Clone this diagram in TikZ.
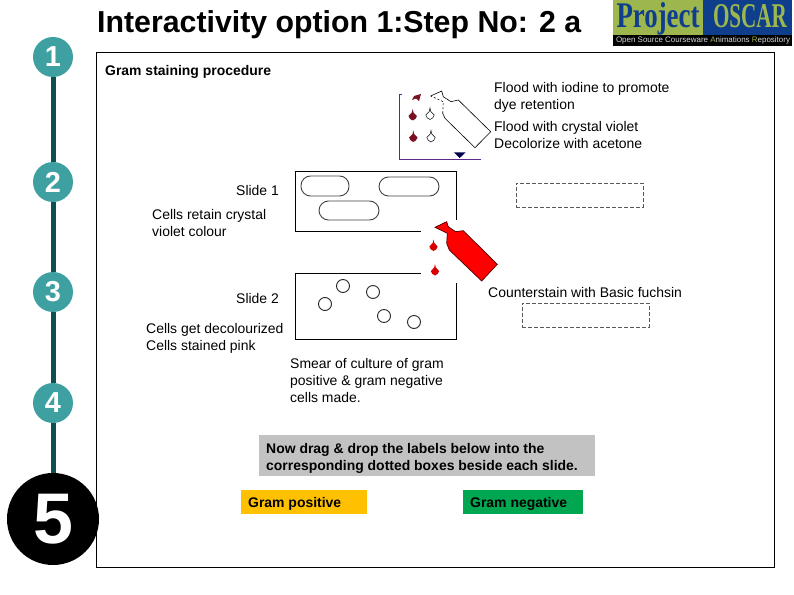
\documentclass[tikz,border=0pt]{standalone}
\usepackage{fontspec}
\usepackage{graphicx}
\setmainfont{Liberation Sans}
\newfontfamily\logofont{Liberation Serif}
\usetikzlibrary{positioning}
\definecolor{stepteal}{HTML}{3FA0A2}
\definecolor{stepline}{HTML}{0B4F50}
\definecolor{logogreen}{HTML}{9DB64E}
\definecolor{logoblue}{HTML}{0F3F8C}
\definecolor{axispurple}{HTML}{5B2A86}
\definecolor{dropdark}{HTML}{7A1022}
\definecolor{labelgreen}{HTML}{00A650}
\definecolor{labelorange}{HTML}{FFC000}

\begin{document}
\begin{tikzpicture}[
x=1bp,
y=-1bp,
stepdot/.style={
  circle,
  fill=stepteal,
  text=white,
  inner sep=0pt,
  minimum size=40bp,
  font=\fontsize{29}{29}\selectfont\bfseries
  },
bigdot/.style={
  circle,
  fill=black,
  text=white,
  inner sep=0pt,
  minimum size=92bp,
  font=\fontsize{72}{72}\selectfont\bfseries
  },
txt/.style={
  anchor=north west,
  align=left,
  inner sep=0pt,
  font=\fontsize{14}{17}\selectfont
  },
boldtxt/.style={
  txt,
  font=\fontsize{14}{17}\selectfont\bfseries
  },
dropbox/.style={
  draw=black!65,
  dash pattern=on 4bp off 2bp,
  anchor=north west,
  minimum width=127bp,
  minimum height=24bp,
  inner sep=0pt
  },
slideline/.style={
  draw=black,
  line width=0.9bp
  },
cell/.style={
  slideline,
  draw=black!75,
  rounded corners=9.5bp,
  inner sep=0pt
  },
germ/.style={
  slideline,
  draw=black!85,
  circle,
  minimum size=13bp,
  inner sep=0pt
  },
tinydrop/.pic={
  \path[pic actions] (0,-6) -- (0.8,-2.5) -- (4.2,1) .. controls (4,3) and (2,5) .. (0,5.5)
    .. controls (-2,5) and (-4,3) .. (-4.2,1) -- (-0.8,-2.5) -- cycle;
  }
]
\useasboundingbox (0,0) rectangle (794,595);

% steps on the left
\node[stepdot] (s1) at (53,57) {1};
\node[stepdot] (s2) at (53,182) {2};
\node[stepdot] (s3) at (53,292) {3};
\node[stepdot] (s4) at (53,403) {4};
\node[bigdot] (s5) at (53,519) {5};
\foreach \ai/\aii in {1/2,2/3,3/4,4/5}
  \draw[stepline,line width=5bp] (s\ai) -- (s\aii);

% title and logo
\node[anchor=base west,inner sep=0pt,font=\fontsize{30.4}{30}\selectfont\bfseries] (title) at (97,33) {Interactivity option 1:Step No: 2 a};
\fill[logogreen] (613,0) rectangle (703,35);
\fill[logoblue] (703,0) rectangle (792,35);
\fill[black] (613,35) rectangle (792,46);
\node[anchor=base,inner sep=0pt,text=logoblue] (logoa) at (658,28) {\resizebox{83bp}{25bp}{\logofont\bfseries Project}};
\node[anchor=base,inner sep=0pt,text=logogreen] (logob) at (750,28) {\resizebox{74bp}{23bp}{\logofont\bfseries OSCAR}};
\node[inner sep=0pt,text=black!15] (logoc) at (703,40.5) {\resizebox{174bp}{!}{Open Source Courseware \textcolor{logogreen}{A}nimations \textcolor{logogreen}{R}epository}};

% main frame
\draw[black,line width=0.9bp] (96,52) rectangle (774,567);

\node[boldtxt] (head) at (105,65) {Gram staining procedure};
\node[txt] (iodine) at (494,82) {Flood with iodine to promote\\dye retention};
\node[txt] (violet) at (494,121) {Flood with crystal violet\\Decolorize with acetone};
\node[txt] (sl1) at (236,185) {Slide 1};
\node[txt] (retain) at (152,209) {Cells retain crystal\\violet colour};
\node[txt] (sl2) at (236,293) {Slide 2};
\node[txt] (fuchsin) at (488,287) {Counterstain with Basic fuchsin};
\node[txt] (decol) at (146,323) {Cells get decolourized\\Cells stained pink};
\node[txt] (smear) at (290,358) {Smear of culture of gram\\positive \& gram negative\\cells made.};

% slides
\draw[slideline] (421,231) -- (295,231) -- (295,171) -- (456,171) -- (456,220);
\draw[slideline] (421,273) -- (295,273) -- (295,339) -- (456,339) -- (456,283);
\node[cell,minimum width=48bp,minimum height=20bp] (c1) at (325,186) {};
\node[cell,minimum width=60bp,minimum height=19bp] (c2) at (409,186.5) {};
\node[cell,minimum width=60bp,minimum height=19bp] (c3) at (349,210.5) {};
\foreach \gx/\gy [count=\mi] in {343/286,373/292,325/304,384/316,414/322}
  \node[germ] (g\mi) at (\gx,\gy) {};
\node[dropbox] (box1) at (516,183) {};
\node[dropbox] (box2) at (522,303) {};

% small bottle and its drops
\draw[axispurple,line width=0.9bp] (402,94) -- (399,94) -- (399,159) -- (481,159);
\fill[blue!30!black] (454,152.5) -- (465.5,152.5) -- (459.7,158) -- cycle;
\draw[black,line width=0.6bp] (430.7,96) -- (441.7,91) -- (443.3,96.7) -- (451,101.7) -- (458.3,100) -- (490.7,131.7) -- (475,147.7) -- (445,118.3) -- (442.7,113.3);
\draw[black,line width=0.6bp,dash pattern=on 2bp off 2bp] (442.7,113.3) -- (443.3,101.7) -- (430.7,96);
\fill[dropdark] (412,100) -- (414,96) -- (421,94) -- (419,101) -- (416,98.5) -- cycle;
\pic[fill=dropdark] (d1) at (412.7,115) {tinydrop};
\pic[fill=dropdark] (d2) at (413.3,136.5) {tinydrop};
\pic[draw=black,fill=white,line width=0.5bp] (d3) at (430,114) {tinydrop};
\pic[draw=black,fill=white,line width=0.5bp] (d4) at (431,136.5) {tinydrop};

% red bottle and its drops
\draw[black!70!red,fill=red,line width=0.7bp] (435,227.3) -- (446.7,221.7) -- (448.3,226.7) -- (455.7,231.7) -- (463.3,230.7) -- (497.3,264.3) -- (481.7,281) -- (449.3,250) -- (446.7,243.3) -- (447.3,233.3) -- cycle;
\pic[fill=red!85!black] (d5) at (433.5,245.5) {tinydrop};
\pic[fill=red!85!black] (d6) at (435,270) {tinydrop};

% instruction and labels
\fill[black!24] (259,435) rectangle (595,476);
\node[boldtxt] (drag) at (266,443) {Now drag \& drop the labels below into the\\corresponding dotted boxes beside each slide.};
\fill[labelorange] (241,490) rectangle (367,514);
\fill[labelgreen] (463,490) rectangle (583,514);
\node[boldtxt,anchor=west] (pos) at (248,504) {Gram positive};
\node[boldtxt,anchor=west] (neg) at (470,504) {Gram negative};
\end{tikzpicture}
\end{document}
